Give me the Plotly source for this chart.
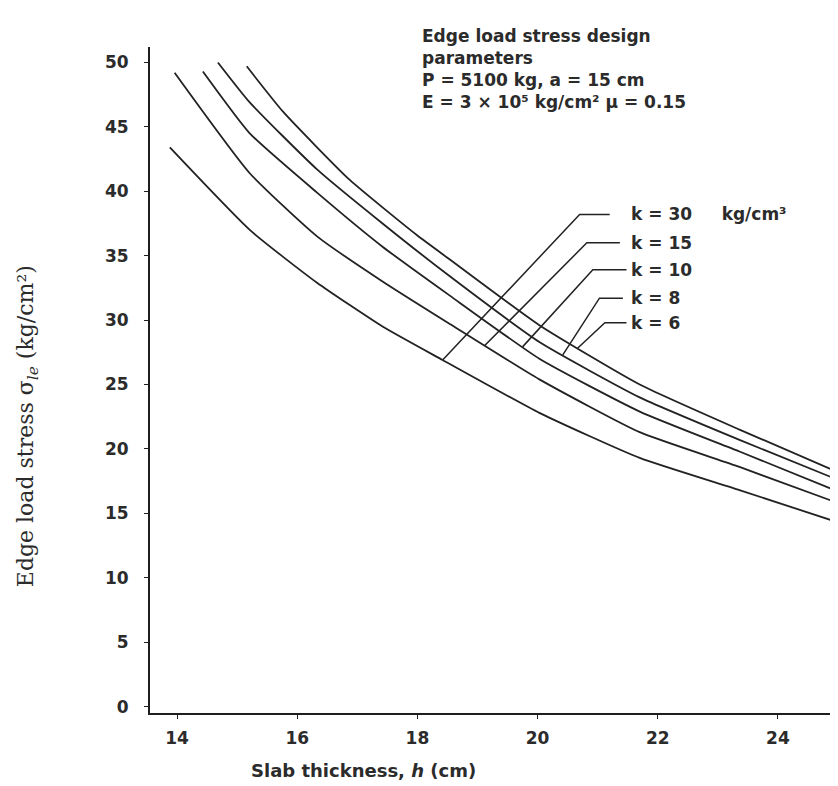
import numpy as np
import plotly.graph_objects as go

# ---- data ----
k_labels = ["k = 30     kg/cm³", "k = 15", "k = 10", "k = 8", "k = 6"]

h_k30 = [13.88, 15.21, 16.33, 17.42, 18.42, 20.03, 21.70, 23.36, 25.0]
s_k30 = [43.4, 37.0, 32.9, 29.5, 26.9, 22.8, 19.3, 16.8, 14.3]

h_k15 = [13.96, 15.21, 16.33, 17.42, 18.54, 20.03, 21.70, 23.36, 25.0]
s_k15 = [49.2, 41.4, 36.5, 33.0, 29.7, 25.4, 21.3, 18.6, 15.8]

h_k10 = [14.43, 15.21, 16.33, 17.42, 18.54, 20.03, 21.70, 23.36, 25.0]
s_k10 = [49.3, 44.5, 39.9, 35.7, 31.9, 27.0, 22.9, 19.8, 16.7]

h_k8 = [14.68, 15.21, 16.33, 17.42, 18.54, 20.03, 21.70, 23.36, 25.0]
s_k8 = [50.0, 46.9, 41.7, 37.5, 33.4, 28.3, 24.0, 20.7, 17.6]

h_k6 = [15.16, 15.76, 16.87, 17.99, 18.54, 20.03, 21.70, 23.36, 25.0]
s_k6 = [49.7, 46.2, 40.9, 36.6, 34.7, 29.6, 25.0, 21.5, 18.2]

x_ticks = [14, 16, 18, 20, 22, 24]
y_ticks = [0, 5, 10, 15, 20, 25, 30, 35, 40, 45, 50]

series_h = [h_k30, h_k15, h_k10, h_k8, h_k6]
series_s = [s_k30, s_k15, s_k10, s_k8, s_k6]

# leader-line geometry (layout, not data)
leader_curve_x = [18.42, 19.12, 19.75, 20.42, 20.67]
leader_elbow_x = [20.70, 20.82, 20.92, 21.03, 21.12]
leader_elbow_y = [38.2, 36.0, 33.9, 31.7, 29.8]
leader_end_x = [21.20, 21.37, 21.48, 21.42, 21.48]
label_x = 21.52

LINE = "#222222"
TXT = "#2b2b2b"

fig = go.Figure()
for h, s in zip(series_h, series_s):
    fig.add_trace(go.Scatter(x=h, y=s, mode="lines",
                             line=dict(color=LINE, width=1.8, shape="spline", smoothing=0.5),
                             hoverinfo="skip", showlegend=False))

for i, lab in enumerate(k_labels):
    cy = float(np.interp(leader_curve_x[i], series_h[i], series_s[i]))
    fig.add_trace(go.Scatter(x=[leader_curve_x[i], leader_elbow_x[i], leader_end_x[i]],
                             y=[cy, leader_elbow_y[i], leader_elbow_y[i]],
                             mode="lines", line=dict(color=LINE, width=1.5),
                             hoverinfo="skip", showlegend=False))
    fig.add_annotation(x=label_x, y=leader_elbow_y[i], text=lab, showarrow=False,
                       xanchor="left", yanchor="middle",
                       font=dict(family="DejaVu Sans", size=17, color=TXT, weight="bold"))

fig.add_annotation(xref="paper", yref="paper", x=0.392, y=1.035,
                   xanchor="left", yanchor="top", align="left", showarrow=False,
                   text=("Edge load stress design<br>parameters<br>"
                         "P = 5100 kg, a = 15 cm<br>E = 3 × 10⁵ kg/cm² μ = 0.15"),
                   font=dict(family="DejaVu Sans", size=17, color=TXT, weight="bold"))

fig.add_annotation(xref="paper", yref="paper", x=0.31, y=-0.086,
                   xanchor="center", yanchor="middle", showarrow=False,
                   text="Slab thickness, <i>h</i> (cm)",
                   font=dict(family="DejaVu Sans", size=18, color=TXT, weight="bold"))

fig.add_annotation(xref="paper", yref="paper", x=-0.178, y=0.43,
                   xanchor="center", yanchor="middle", showarrow=False, textangle=-90,
                   text="Edge load stress σ<sub><i>le</i></sub> (kg/cm²)",
                   font=dict(family="DejaVu Serif", size=22, color=TXT))

fig.update_xaxes(range=[13.55, 25.0], tickvals=x_ticks, ticktext=[str(v) for v in x_ticks],
                 showgrid=False, zeroline=False, showline=True, linecolor="#1e1e1e", linewidth=2,
                 ticks="outside", ticklen=4, tickcolor="#1e1e1e", ticklabelstandoff=5,
                 tickfont=dict(family="DejaVu Sans", size=17, color=TXT, weight="bold"))
fig.update_yaxes(range=[-0.5, 51.2], tickvals=y_ticks, ticktext=[str(v) for v in y_ticks],
                 showgrid=False, zeroline=False, showline=True, linecolor="#1e1e1e", linewidth=2,
                 ticks="outside", ticklen=4, tickcolor="#1e1e1e", ticklabelstandoff=12,
                 tickfont=dict(family="DejaVu Sans", size=17, color=TXT, weight="bold"))

# the page body adds an 8 px margin, so the figure is 830x778 inside the 838x786 window
fig.update_layout(width=830, height=778, margin=dict(l=142, r=0, t=39, b=73),
                  paper_bgcolor="white", plot_bgcolor="white", showlegend=False)

fig.write_html("out.html")
